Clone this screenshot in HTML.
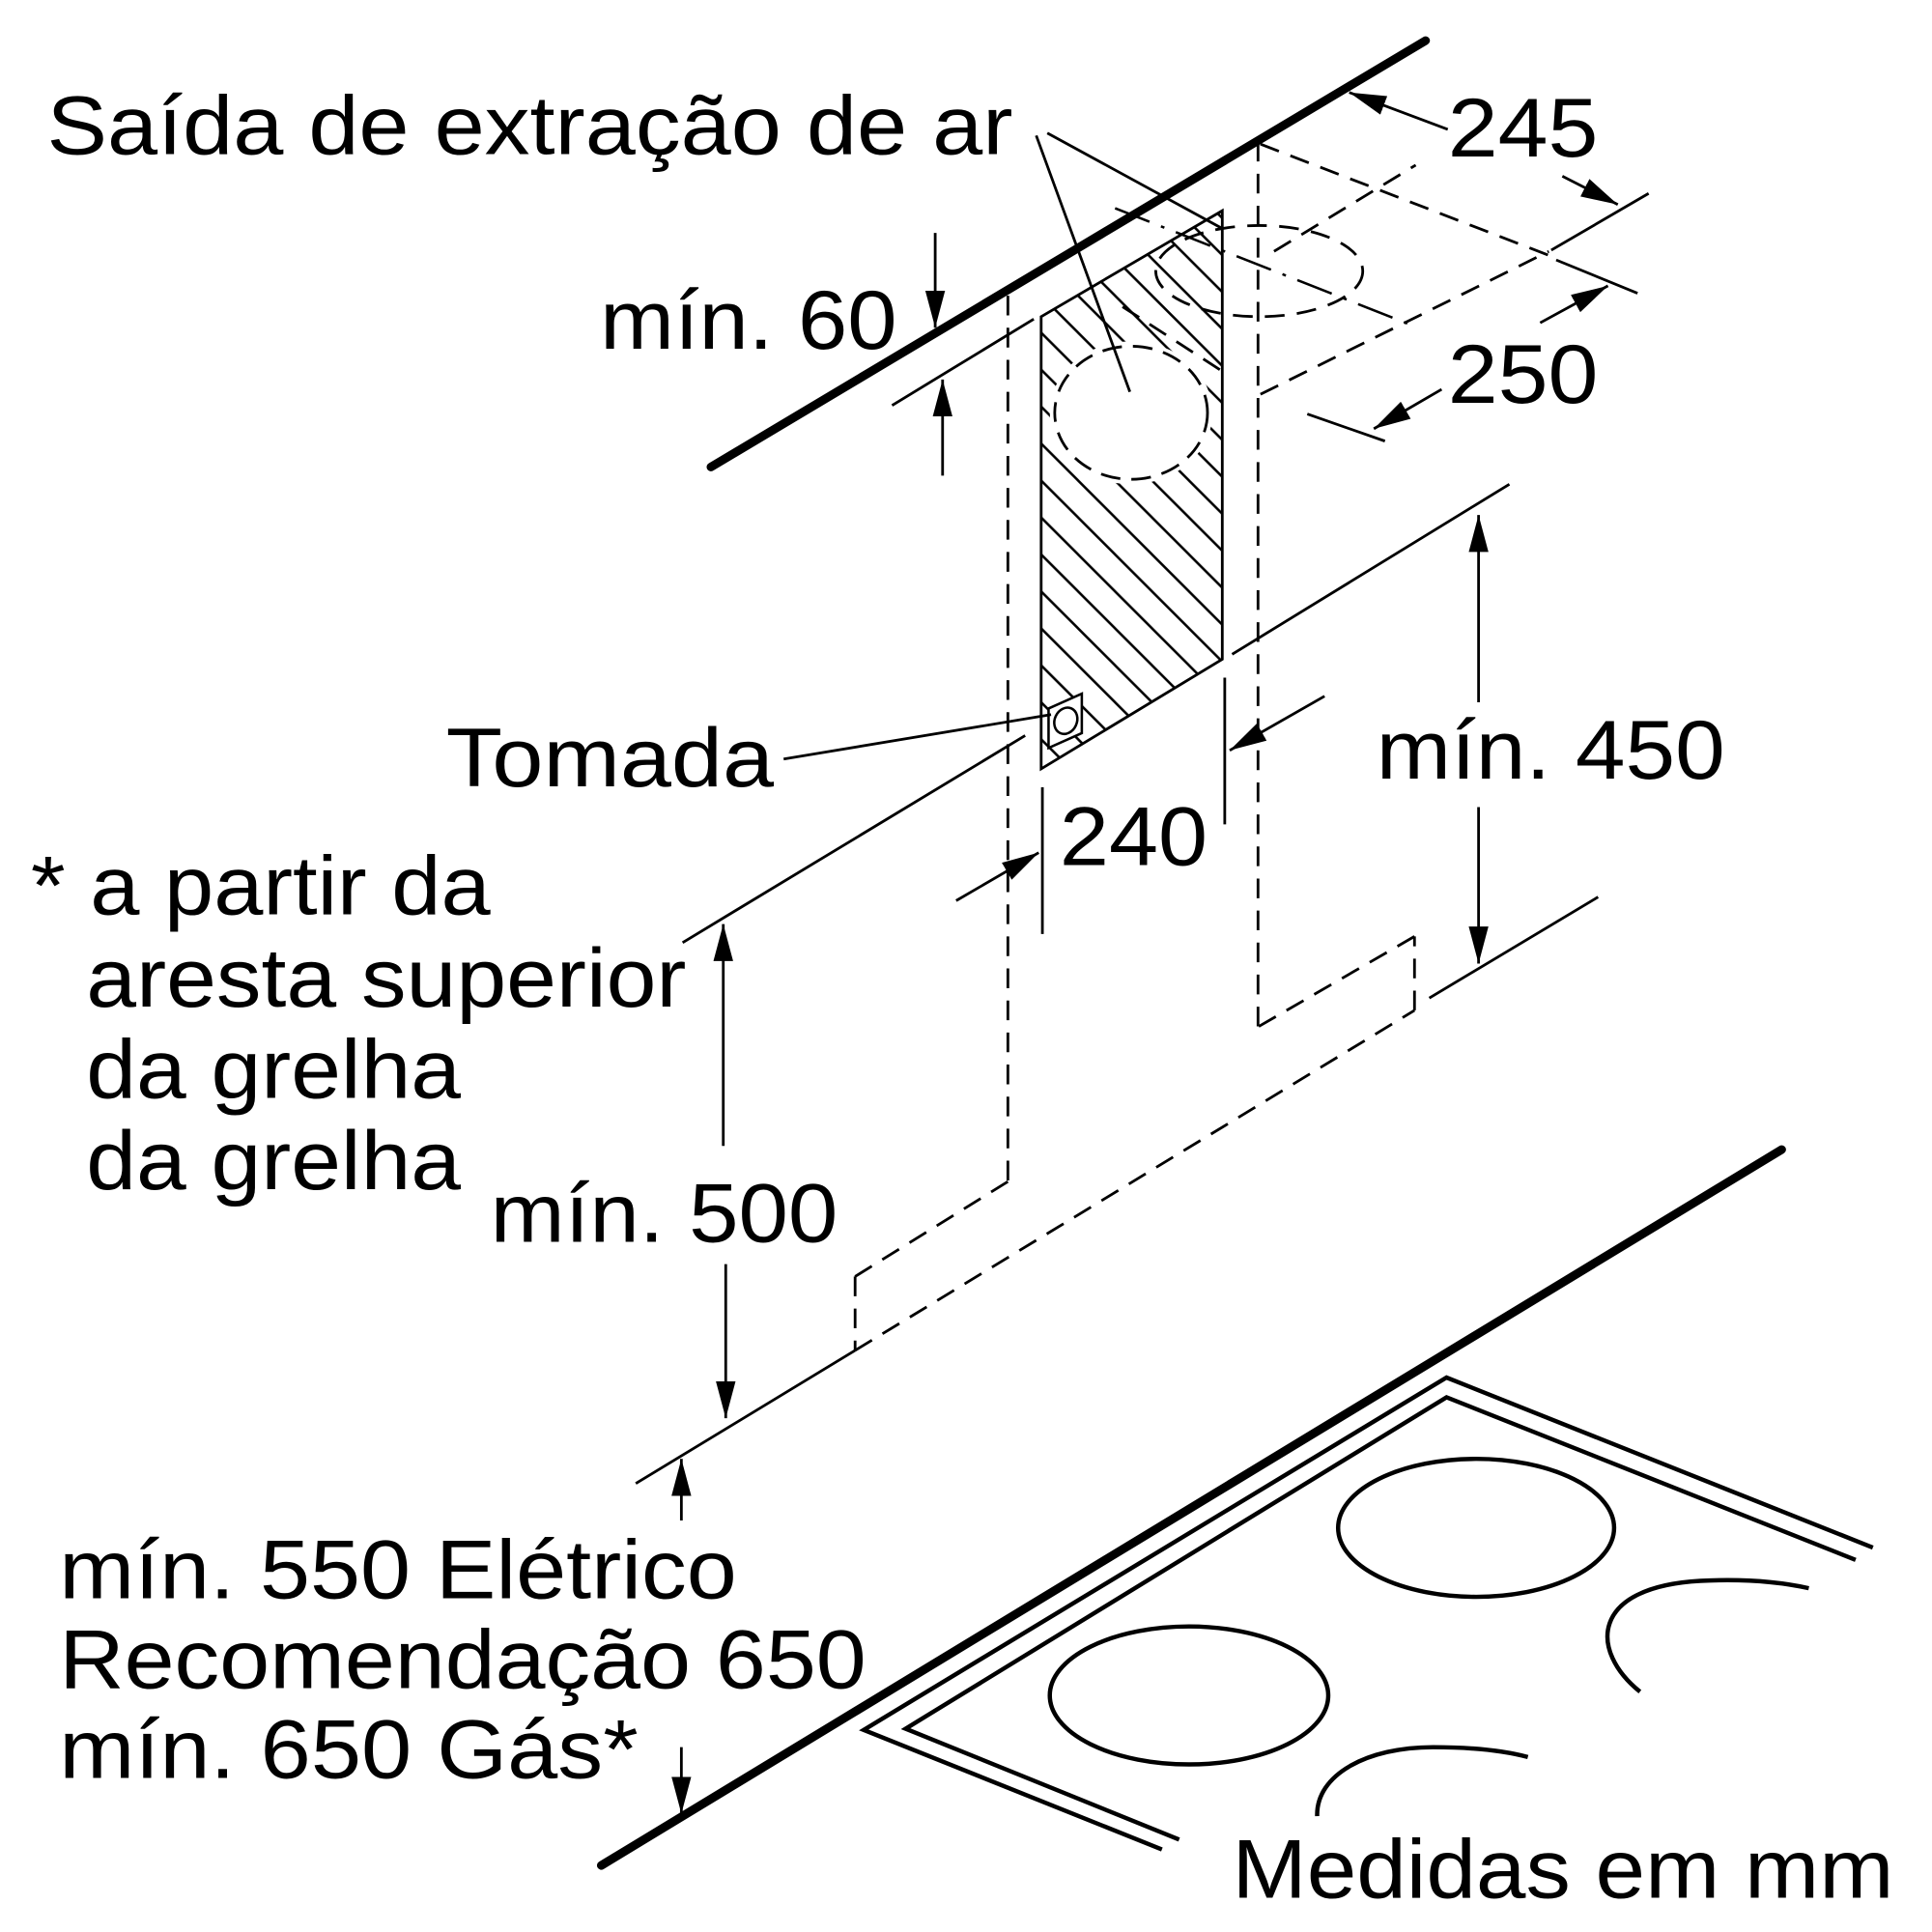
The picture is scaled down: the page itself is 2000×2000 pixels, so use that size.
<!DOCTYPE html>
<html><head><meta charset="utf-8"><style>
html,body{margin:0;padding:0;background:#fff;}
svg{display:block;}
text{font-family:"Liberation Sans",sans-serif;font-size:68px;fill:#000;}
</style></head><body>
<svg width="2000" height="2000" viewBox="0 0 1568 1568" xmlns="http://www.w3.org/2000/svg">
<defs>
<marker id="ah" viewBox="0 0 30 16" refX="30" refY="8" markerWidth="30" markerHeight="16" markerUnits="userSpaceOnUse" orient="auto">
<path d="M0,0 L30,8 L0,16 Z" fill="#000"/>
</marker>
<clipPath id="box"><polygon points="845,257 992,171 992,535 845,624"/></clipPath>
<pattern id="hatch" patternUnits="userSpaceOnUse" width="30" height="30" patternTransform="translate(845,0)">
<path d="M-5,-5 L35,35 M-35,-5 L5,35 M25,-5 L65,35" stroke="#000" stroke-width="2"/>
</pattern>
</defs>

<!-- ceiling & worktop -->
<line x1="577" y1="379" x2="1157" y2="33" stroke="#000" stroke-width="7" stroke-linecap="round"/>
<line x1="488" y1="1514" x2="1446" y2="933" stroke="#000" stroke-width="7" stroke-linecap="round"/>

<!-- hatched duct -->
<g clip-path="url(#box)">
<rect x="840" y="160" width="160" height="470" fill="url(#hatch)"/>
<ellipse cx="918" cy="335" rx="66" ry="58" fill="#fff"/>
</g>
<polygon points="845,257 992,171 992,535 845,624" fill="none" stroke="#000" stroke-width="2.2"/>
<ellipse cx="918" cy="335" rx="62" ry="54" fill="none" stroke="#000" stroke-width="2.2" stroke-dasharray="16,9"/>

<!-- socket -->
<polygon points="851,575 878,563 878,595 851,607" fill="#fff" stroke="#000" stroke-width="2"/>
<ellipse cx="865" cy="585" rx="9" ry="11" fill="none" stroke="#000" stroke-width="2" transform="rotate(25 865 585)"/>

<!-- top dashed box -->
<g stroke="#000" stroke-width="2.2" fill="none" stroke-dasharray="16,10">
<ellipse cx="1022" cy="220" rx="84" ry="37"/>
<line x1="1021" y1="115" x2="1021" y2="835"/>
<line x1="818" y1="240" x2="818" y2="960"/>
<line x1="1023" y1="117" x2="1259" y2="208"/>
<line x1="1023" y1="320" x2="1257" y2="204"/>
<line x1="1034" y1="204" x2="1149" y2="134"/>
<line x1="990" y1="300" x2="905" y2="245"/>
<line x1="818" y1="959" x2="694" y2="1036"/>
<line x1="694" y1="1036" x2="694" y2="1096"/>
<line x1="694" y1="1096" x2="1148" y2="820"/>
<line x1="1148" y1="820" x2="1148" y2="760"/>
<line x1="1148" y1="760" x2="1020" y2="834"/>
</g>
<line x1="905" y1="169" x2="1151" y2="266" stroke="#000" stroke-width="2" stroke-dasharray="30,10,3,10"/>

<!-- thin solid lines -->
<g stroke="#000" stroke-width="2.2" fill="none">
<line x1="1061" y1="336" x2="1124" y2="358"/>
<line x1="1259" y1="203" x2="1338" y2="157"/>
<line x1="1263" y1="211" x2="1329" y2="238"/>
<line x1="724" y1="329" x2="839" y2="259"/>
<line x1="554" y1="765" x2="832" y2="597"/>
<line x1="1000" y1="531" x2="1225" y2="393"/>
<line x1="1160" y1="810" x2="1297" y2="728"/>
<line x1="516" y1="1204" x2="694" y2="1096"/>
<line x1="846" y1="639" x2="846" y2="758"/>
<line x1="994" y1="550" x2="994" y2="669"/>
<line x1="841" y1="110" x2="917" y2="318"/>
<line x1="850" y1="108" x2="993" y2="186"/>
<line x1="636" y1="616" x2="853" y2="580"/>
</g>

<!-- dimension arrows -->
<g stroke="#000" stroke-width="2.2" fill="none" marker-end="url(#ah)">
<line x1="759" y1="189" x2="759" y2="266"/>
<line x1="765" y1="386" x2="765" y2="308"/>
<line x1="1175" y1="105" x2="1095" y2="75"/>
<line x1="1268" y1="143" x2="1313" y2="166"/>
<line x1="1250" y1="262" x2="1305" y2="232"/>
<line x1="1170" y1="316" x2="1115" y2="348"/>
<line x1="1200" y1="570" x2="1200" y2="418"/>
<line x1="1200" y1="655" x2="1200" y2="782"/>
<line x1="587" y1="930" x2="587" y2="750"/>
<line x1="589" y1="1026" x2="589" y2="1151"/>
<line x1="553" y1="1234" x2="553" y2="1184"/>
<line x1="553" y1="1418" x2="553" y2="1472"/>
<line x1="776" y1="731" x2="843" y2="692"/>
<line x1="1075" y1="565" x2="998" y2="609"/>
</g>

<!-- hob -->
<g stroke="#000" stroke-width="3.5" fill="none">
<polyline points="943,1501 701,1404 1174,1118 1520,1256"/>
<polyline points="957,1493 735,1403 1174,1134 1506,1266"/>
<ellipse cx="1198" cy="1240" rx="112" ry="56"/>
<ellipse cx="965" cy="1376" rx="113" ry="56"/>
<path d="M1331,1373 C1290,1340 1290,1288 1380,1283 C1420,1281 1450,1285 1468,1289"/>
<path d="M1069,1474 C1068,1440 1110,1418 1163,1418 C1200,1418 1225,1422 1240,1426"/>
</g>

<!-- text -->
<text x="38" y="125" textLength="784" lengthAdjust="spacingAndGlyphs">Saída de extração de ar</text>
<text x="487" y="283" textLength="241" lengthAdjust="spacingAndGlyphs">mín. 60</text>
<text x="1175" y="127" textLength="122" lengthAdjust="spacingAndGlyphs">245</text>
<text x="1175" y="327" textLength="122" lengthAdjust="spacingAndGlyphs">250</text>
<text x="362" y="638" textLength="266" lengthAdjust="spacingAndGlyphs">Tomada</text>
<text x="1117" y="632" textLength="283" lengthAdjust="spacingAndGlyphs">mín. 450</text>
<text x="860" y="702" textLength="120" lengthAdjust="spacingAndGlyphs">240</text>
<text x="25" y="742" textLength="373" lengthAdjust="spacingAndGlyphs">* a partir da</text>
<text x="70" y="817" textLength="487" lengthAdjust="spacingAndGlyphs">aresta superior</text>
<text x="70" y="891" textLength="304" lengthAdjust="spacingAndGlyphs">da grelha</text>
<text x="70" y="965" textLength="304" lengthAdjust="spacingAndGlyphs">da grelha</text>
<text x="398" y="1008" textLength="282" lengthAdjust="spacingAndGlyphs">mín. 500</text>
<text x="48" y="1297" textLength="550" lengthAdjust="spacingAndGlyphs">mín. 550 Elétrico</text>
<text x="48" y="1370" textLength="655" lengthAdjust="spacingAndGlyphs">Recomendação 650</text>
<text x="48" y="1443" textLength="470" lengthAdjust="spacingAndGlyphs">mín. 650 Gás*</text>
<text x="1000" y="1540" textLength="537" lengthAdjust="spacingAndGlyphs">Medidas em mm</text>
</svg>
</body></html>
